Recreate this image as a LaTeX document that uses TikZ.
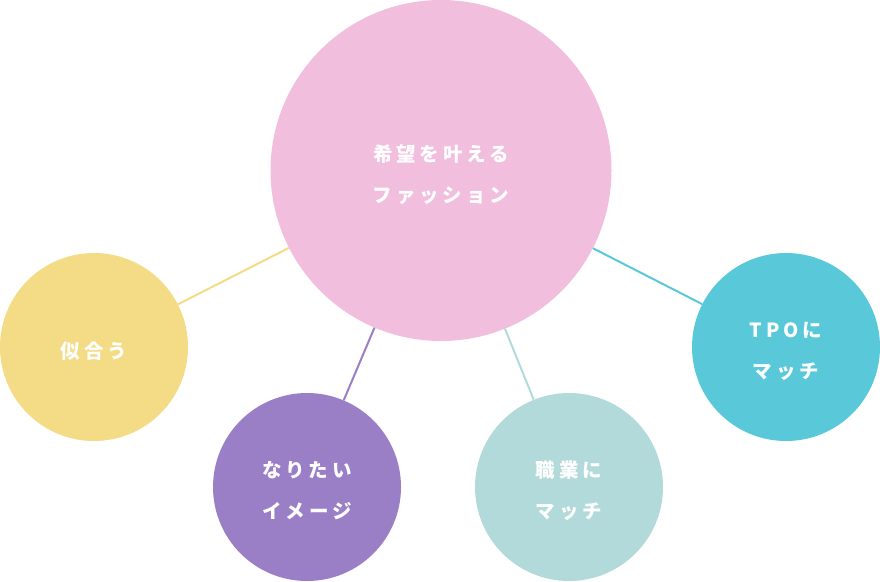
\documentclass[tikz,border=0pt]{standalone}
\usepackage{fontspec}
\usepackage{tikz}
\usetikzlibrary{positioning}
\newfontfamily\jpfont[LetterSpace=20]{Noto Sans CJK JP}
\definecolor{mypink}{RGB}{241,190,221}
\definecolor{myyellow}{RGB}{244,219,134}
\definecolor{mypurple}{RGB}{154,127,199}
\definecolor{mymint}{RGB}{178,218,218}
\definecolor{mycyan}{RGB}{89,201,217}
\tikzset{
  bubble/.style={circle, inner sep=0pt, minimum size=188pt},
  bigbubble/.style={bubble, minimum size=341pt},
  bubbletext/.style={text=white, align=center, yshift=-4pt,
    font=\jpfont\bfseries\fontsize{19.5}{41}\selectfont},
  link/.style={line width=2pt}
}

\begin{document}
\begin{tikzpicture}[x=1pt, y=-1pt]
  \useasboundingbox (0,0) rectangle (880,581);
  \node[bigbubble, fill=mypink, label={[bubbletext]center:希望を叶える\\ファッション}] (hope) at (441,170.5) {};
  \node[bubble, fill=myyellow, label={[bubbletext]center:似合う}] (suit) at (94,347) {};
  \node[bubble, fill=mypurple, label={[bubbletext]center:なりたい\\イメージ}] (image) at (307,487) {};
  \node[bubble, fill=mymint, label={[bubbletext]center:職業に\\マッチ}] (job) at (569,487) {};
  \node[bubble, fill=mycyan, label={[bubbletext]center:TPOに\\マッチ}] (tpo) at (786,347) {};
  \draw[link, myyellow] (hope) -- (suit);
  \draw[link, mypurple] (hope) -- (image);
  \draw[link, mymint] (hope) -- (job);
  \draw[link, mycyan] (hope) -- (tpo);
\end{tikzpicture}
\end{document}
